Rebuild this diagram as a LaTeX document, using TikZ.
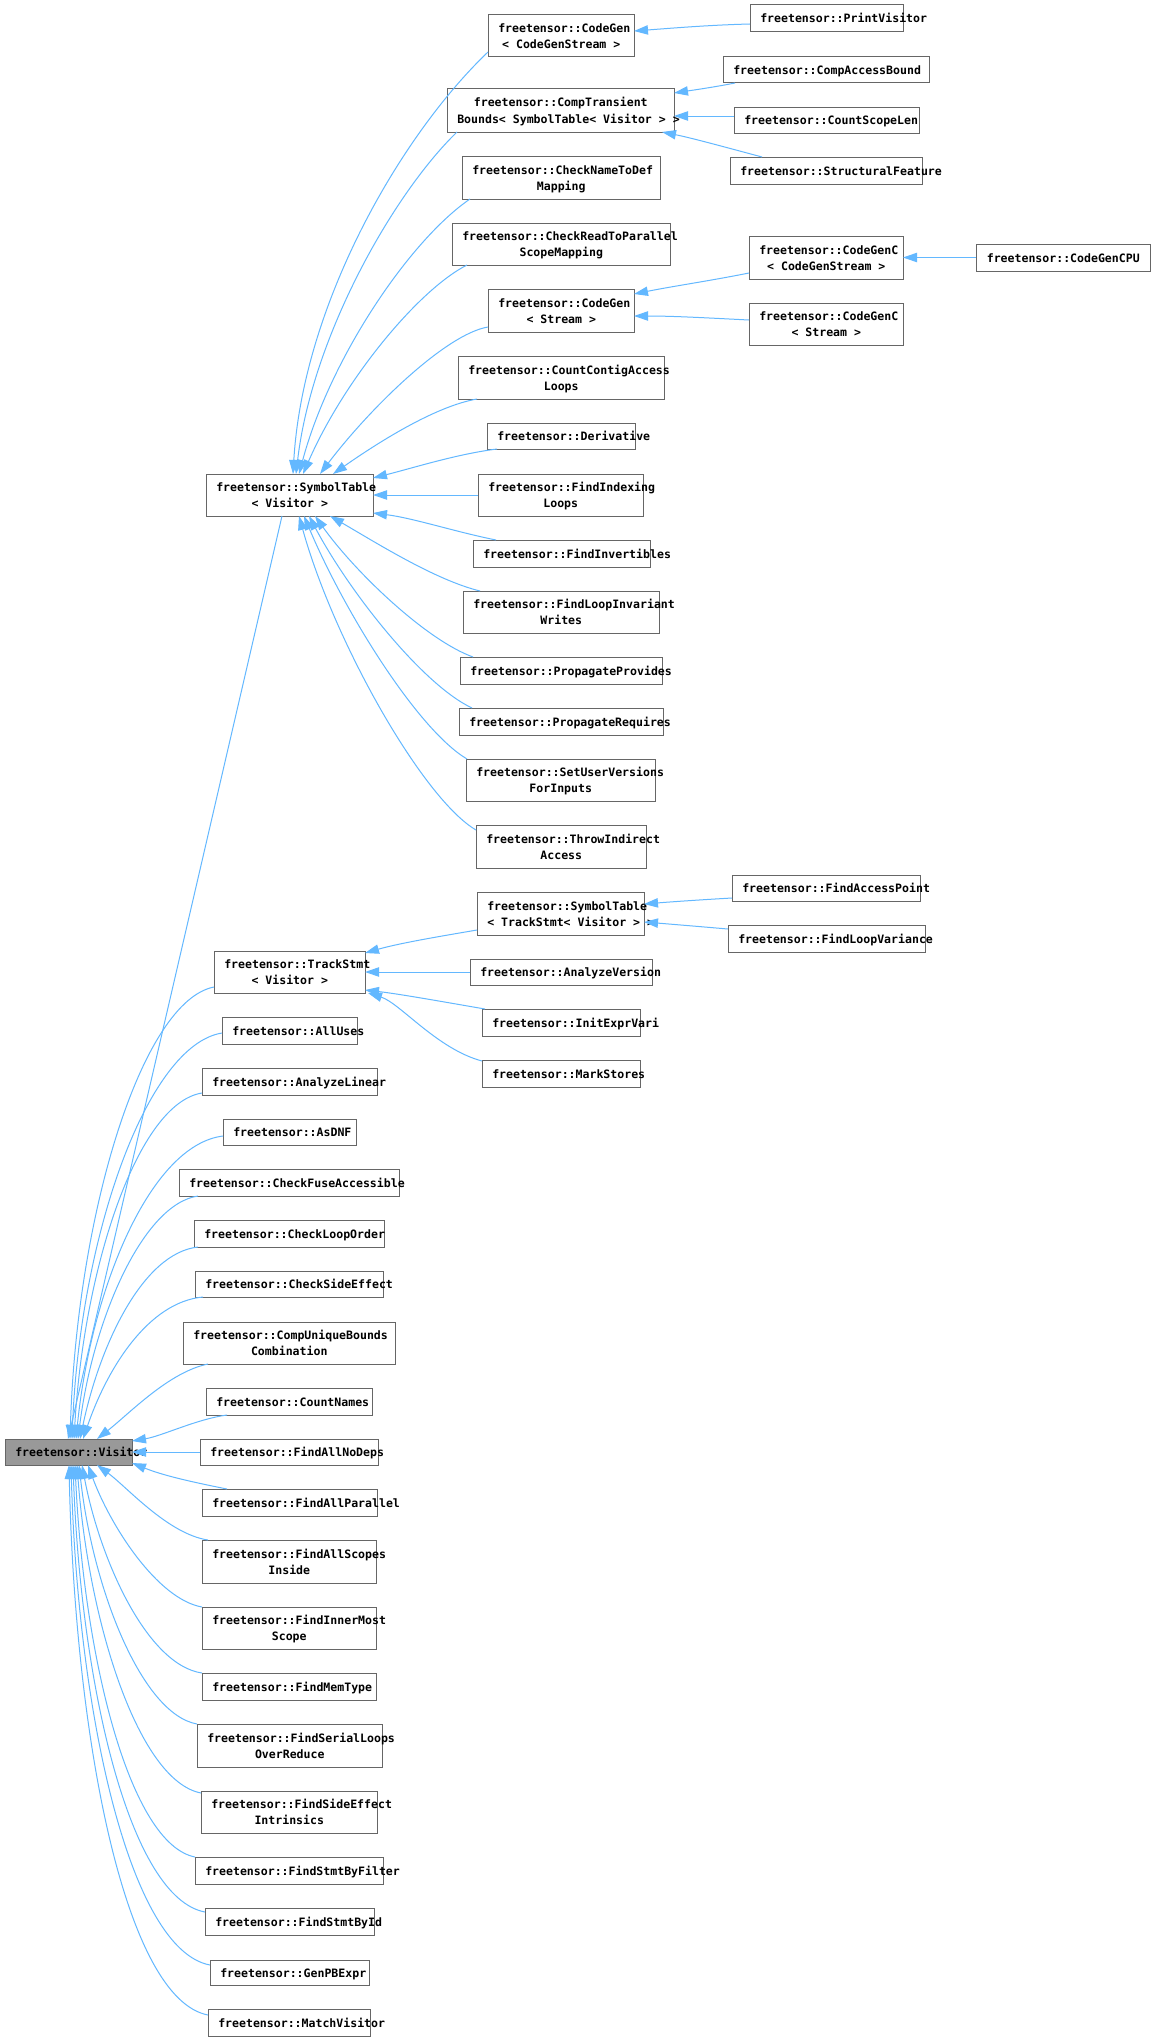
\documentclass[tikz,border=0pt]{standalone}
\usepackage{fontspec}
\newfontfamily\monofam{DejaVu Sans Mono}
\newcommand\nodefont{\monofam\bfseries\fontsize{8.66pt}{10pt}\selectfont}
\usetikzlibrary{arrows.meta,calc}
\definecolor{edgeblue}{HTML}{63B8FF}
\definecolor{boxgray}{HTML}{666666}
\definecolor{visgray}{HTML}{999999}
\tikzset{
  classbox/.style={draw=boxgray, fill=white, line width=0.75pt, inner sep=0pt, outer sep=0pt},
  rootbox/.style={classbox, fill=visgray},
  inh/.style={draw=edgeblue, line width=0.75pt, -{Triangle[length=10.5pt,width=7pt]}},
  lbl/.style={anchor=base west, inner sep=0pt, font=\nodefont},
}
\newcommand\mkbox[6]{%
  \pgfmathsetmacro\mywd{(#4-#2)*0.75}%
  \pgfmathsetmacro\myht{(#5-#3)*0.75}%
  \node[#6, minimum width=\mywd pt, minimum height=\myht pt] (#1) at ({(#2+#4)/2},{(#3+#5)/2}) {};}
\newcommand\tline[4]{%
  \pgfinterruptpicture\setbox0=\hbox{\nodefont #4}\xdef\mytlw{\the\wd0}\endpgfinterruptpicture
  \pgfmathsetmacro\mytlx{max((#1+#2)/2-\mytlw/1.5,#1+10)}%
  \node[lbl] at (\mytlx,#3) {#4};}
\newcommand\classA[6]{%
  \mkbox{#1}{#2}{#3}{#4}{#5}{classbox}%
  \pgfmathsetmacro\mybase{(#3+#5)/2+4.5}%
  \tline{#2}{#4}{\mybase}{#6}}
\newcommand\classB[7]{%
  \mkbox{#1}{#2}{#3}{#4}{#5}{classbox}%
  \pgfmathsetmacro\mybaseA{(#3+#5)/2-3.5}%
  \pgfmathsetmacro\mybaseB{(#3+#5)/2+12.5}%
  \tline{#2}{#4}{\mybaseA}{#6}%
  \tline{#2}{#4}{\mybaseB}{#7}}
\begin{document}
\begin{tikzpicture}[x=0.75pt,y=-0.75pt]
\fill[white] (0,0) rectangle (1156,2041);
\useasboundingbox (0,0) rectangle (1156,2041);

% ---- nodes ----
\classA{print}{750}{5}{903}{32}{freetensor::PrintVisitor}
\classB{cgcs}{488}{15}{634}{57}{freetensor::CodeGen}{< CodeGenStream >}
\classA{cab}{723}{57}{929}{83}{freetensor::CompAccessBound}
\classB{ctb}{447}{89}{674}{132}{freetensor::CompTransient}{Bounds< SymbolTable< Visitor > >}
\classA{csl}{734}{107}{919}{133}{freetensor::CountScopeLen}
\classA{sf}{730}{157}{922}{184}{freetensor::StructuralFeature}
\classB{cnd}{462}{156}{660}{199}{freetensor::CheckNameToDef}{Mapping}
\classB{crp}{452}{223}{670}{265}{freetensor::CheckReadToParallel}{ScopeMapping}
\classB{cgccs}{749}{236}{903}{279}{freetensor::CodeGenC}{< CodeGenStream >}
\classA{cpu}{976}{244}{1150}{271}{freetensor::CodeGenCPU}
\classB{cgs}{488}{289}{634}{332}{freetensor::CodeGen}{< Stream >}
\classB{cgcst}{749}{303}{903}{345}{freetensor::CodeGenC}{< Stream >}
\classB{cca}{458}{356}{664}{399}{freetensor::CountContigAccess}{Loops}
\classA{der}{487}{423}{635}{449}{freetensor::Derivative}
\classB{stv}{206}{474}{373}{516}{freetensor::SymbolTable}{< Visitor >}
\classB{fil}{478}{474}{643}{516}{freetensor::FindIndexing}{Loops}
\classA{finv}{473}{540}{650}{567}{freetensor::FindInvertibles}
\classB{flw}{463}{591}{659}{633}{freetensor::FindLoopInvariant}{Writes}
\classA{pp}{460}{657}{662}{684}{freetensor::PropagateProvides}
\classA{pr}{459}{708}{663}{735}{freetensor::PropagateRequires}
\classB{suv}{466}{759}{655}{801}{freetensor::SetUserVersions}{ForInputs}
\classB{tia}{476}{825}{646}{868}{freetensor::ThrowIndirect}{Access}
\classA{fap}{732}{875}{920}{901}{freetensor::FindAccessPoint}
\classB{stt}{477}{892}{644}{935}{freetensor::SymbolTable}{< TrackStmt< Visitor > >}
\classA{flv}{728}{925}{925}{952}{freetensor::FindLoopVariance}
\classB{ts}{214}{951}{365}{993}{freetensor::TrackStmt}{< Visitor >}
\classA{av}{470}{959}{652}{985}{freetensor::AnalyzeVersion}
\classA{iev}{482}{1009}{640}{1036}{freetensor::InitExprVari}
\classA{ms}{482}{1060}{640}{1087}{freetensor::MarkStores}
\classA{au}{222}{1017}{357}{1044}{freetensor::AllUses}
\classA{al}{202}{1068}{377}{1095}{freetensor::AnalyzeLinear}
\classA{dnf}{223}{1119}{356}{1145}{freetensor::AsDNF}
\classA{cfa}{179}{1169}{399}{1196}{freetensor::CheckFuseAccessible}
\classA{clo}{194}{1220}{384}{1247}{freetensor::CheckLoopOrder}
\classA{cse}{195}{1271}{383}{1297}{freetensor::CheckSideEffect}
\classB{cub}{183}{1322}{395}{1364}{freetensor::CompUniqueBounds}{Combination}
\classA{cn}{206}{1388}{372}{1415}{freetensor::CountNames}
\mkbox{vis}{5}{1439}{132}{1465}{rootbox}
\tline{5}{132}{1456.5}{freetensor::Visitor}
\classA{fand}{200}{1439}{378}{1465}{freetensor::FindAllNoDeps}
\classA{fapar}{202}{1489}{377}{1516}{freetensor::FindAllParallel}
\classB{fas}{202}{1540}{376}{1583}{freetensor::FindAllScopes}{Inside}
\classB{fims}{202}{1607}{376}{1649}{freetensor::FindInnerMost}{Scope}
\classA{fmt}{202}{1673}{376}{1700}{freetensor::FindMemType}
\classB{fsl}{197}{1724}{382}{1767}{freetensor::FindSerialLoops}{OverReduce}
\classB{fse}{201}{1791}{377}{1833}{freetensor::FindSideEffect}{Intrinsics}
\classA{fsf}{195}{1857}{383}{1884}{freetensor::FindStmtByFilter}
\classA{fsi}{205}{1908}{374}{1935}{freetensor::FindStmtById}
\classA{gpb}{210}{1960}{369}{1985}{freetensor::GenPBExpr}
\classA{mv}{208}{2009}{370}{2036}{freetensor::MatchVisitor}

% ---- edges into SymbolTable<Visitor> ----
\draw[inh] ($(cgcs.south west)+(0,-5)$) .. controls +(-88,84) and +(10,-169) .. ($(stv.north west)+(87,0)$);
\draw[inh] ($(ctb.south west)+(10,0)$) .. controls +(-64,62) and +(16,-137) .. ($(stv.north west)+(90,0)$);
\draw[inh] ($(cnd.south west)+(8,0)$) .. controls +(-60,41) and +(31,-116) .. ($(stv.north west)+(93,0)$);
\draw[inh] ($(crp.south west)+(15,0)$) .. controls +(-49,25) and +(41,-94) .. ($(stv.north west)+(97,0)$);
\draw[inh] ($(cgs.south west)+(0,-5)$) .. controls +(-42,7) and +(50,-66) .. ($(stv.north west)+(114,0)$);
\draw[inh] ($(cca.south west)+(19,0)$) .. controls +(-43,7.5) and +(43,-30) .. ($(stv.north west)+(127,0)$);
\draw[inh] ($(der.south west)+(10,0)$) .. controls +(-40,5) and +(40,-10) .. ($(stv.north east)+(0,4)$);
\draw[inh] (fil.west) -- (stv.east);
\draw[inh] ($(finv.north west)+(23,0)$) .. controls +(-40,-8) and +(40,5) .. ($(stv.south east)+(0,-3)$);
\draw[inh] ($(flw.north west)+(17,0)$) .. controls +(-45,-11) and +(45,26) .. ($(stv.south west)+(124,0)$);
\draw[inh] ($(pp.north west)+(13,0)$) .. controls +(-47,-17) and +(40,56) .. ($(stv.south west)+(109,0)$);
\draw[inh] ($(pr.north west)+(13,0)$) .. controls +(-49,-23) and +(41,77) .. ($(stv.south west)+(103,0)$);
\draw[inh] ($(suv.north west)+(1,0)$) .. controls +(-49,-29) and +(41,97) .. ($(stv.south west)+(98,0)$);
\draw[inh] ($(tia.north west)+(0,5)$) .. controls +(-53,-31) and +(35,126) .. ($(stv.south west)+(93,0)$);

% ---- secondary edges ----
\draw[inh] ($(print.south west)+(0,-8)$) .. controls +(-40,1) and +(40,-3) .. ($(cgcs.north east)+(0,16)$);
\draw[inh] ($(cab.south west)+(12,0)$) .. controls +(-20,4) and +(20,-3) .. ($(ctb.north east)+(0,4)$);
\draw[inh] ($(csl.north west)+(0,9)$) -- ($(ctb.north east)+(0,27)$);
\draw[inh] ($(sf.north west)+(32,0)$) .. controls +(-30,-8) and +(30,6) .. ($(ctb.south east)+(-12,0)$);
\draw[inh] ($(cgccs.south west)+(0,-6)$) .. controls +(-40,8) and +(40,-8) .. ($(cgs.north east)+(0,5)$);
\draw[inh] ($(cgcst.north west)+(0,17)$) .. controls +(-40,-2) and +(40,0) .. ($(cgs.north east)+(0,27)$);
\draw[inh] (cpu.west) -- (cgccs.east);
\draw[inh] ($(fap.south west)+(0,-3)$) .. controls +(-35,2) and +(25,-2) .. ($(stt.north east)+(0,12)$);
\draw[inh] ($(flv.north west)+(0,4)$) .. controls +(-35,-3) and +(25,2) .. ($(stt.north east)+(0,30)$);
\draw[inh] ($(stt.south west)+(0,-5)$) .. controls +(-35,6) and +(35,-10) .. ($(ts.north east)+(0,2)$);
\draw[inh] (av.west) -- (ts.east);
\draw[inh] ($(iev.north west)+(3,0)$) .. controls +(-35,-6) and +(35,4) .. ($(ts.south east)+(0,-3)$);
\draw[inh] ($(ms.north west)+(0,1)$) .. controls +(-45,-12) and +(32,10) .. ($(ts.south east)+(3,0)$);

% ---- edges into Visitor ----
\draw[inh] ($(stv.south west)+(76,0)$) -- ($(vis.north west)+(63,0)$);
\draw[inh] ($(ts.south west)+(0,-6)$) .. controls +(-72,14) and +(7,-226) .. ($(vis.north west)+(65,0)$);
\draw[inh] ($(au.south west)+(0,-11)$) .. controls +(-75,12) and +(8,-203) .. ($(vis.north west)+(67,0)$);
\draw[inh] ($(al.south west)+(0,-2)$) .. controls +(-64,10) and +(10,-173) .. ($(vis.north west)+(69,0)$);
\draw[inh] ($(dnf.south west)+(0,-9)$) .. controls +(-73,9) and +(15,-150) .. ($(vis.north west)+(71,0)$);
\draw[inh] ($(cfa.south west)+(19,0)$) .. controls +(-55,8) and +(15,-120) .. ($(vis.north west)+(73,0)$);
\draw[inh] ($(clo.south west)+(4,0)$) .. controls +(-55,6) and +(20,-95) .. ($(vis.north west)+(75,0)$);
\draw[inh] ($(cse.south west)+(8,0)$) .. controls +(-55,5) and +(24,-70) .. ($(vis.north west)+(78,0)$);
\draw[inh] ($(cub.south west)+(25,0)$) .. controls +(-39,8) and +(33,-26) .. ($(vis.north west)+(92,0)$);
\draw[inh] ($(cn.south west)+(21,0)$) .. controls +(-30,4) and +(30,-5) .. ($(vis.north east)+(0,2)$);
\draw[inh] (fand.west) -- (vis.east);
\draw[inh] ($(fapar.north west)+(25,0)$) .. controls +(-40,-8) and +(30,12) .. ($(vis.south east)+(0,-2)$);
\draw[inh] ($(fas.north west)+(6,0)$) .. controls +(-40,-6) and +(30,22) .. ($(vis.south west)+(92,0)$);
\draw[inh] (fims.north west) .. controls +(-45,-8) and +(22,60) .. ($(vis.south west)+(83,0)$);
\draw[inh] (fmt.north west) .. controls +(-55,-8) and +(18,95) .. ($(vis.south west)+(77,0)$);
\draw[inh] (fsl.north west) .. controls +(-55,-10) and +(14,125) .. ($(vis.south west)+(74,0)$);
\draw[inh] ($(fse.north west)+(0,2)$) .. controls +(-62,-12) and +(12,160) .. ($(vis.south west)+(72,0)$);
\draw[inh] (fsf.north west) .. controls +(-65,-13) and +(9,195) .. ($(vis.south west)+(70,0)$);
\draw[inh] ($(fsi.north west)+(0,4)$) .. controls +(-75,-14) and +(8,222) .. ($(vis.south west)+(68,0)$);
\draw[inh] ($(gpb.north west)+(0,5)$) .. controls +(-80,-15) and +(7,250) .. ($(vis.south west)+(66,0)$);
\draw[inh] ($(mv.north west)+(0,6)$) .. controls +(-83,-16) and +(6,275) .. ($(vis.south west)+(64,0)$);
\end{tikzpicture}
\end{document}
